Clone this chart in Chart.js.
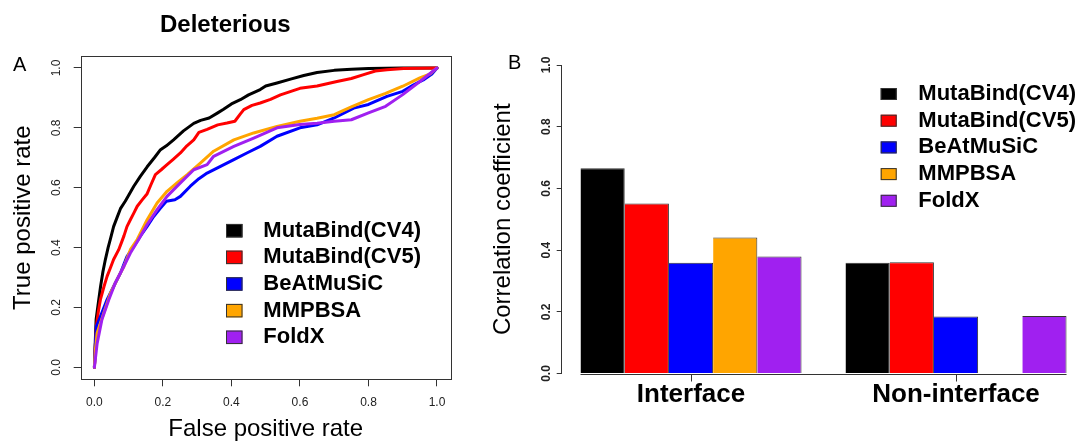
<!DOCTYPE html>
<html>
<head>
<meta charset="utf-8">
<script src="https://cdn.jsdelivr.net/npm/chart.js@4.4.1/dist/chart.umd.min.js"></script>
<style>
  body { margin: 0; background: #fff; width: 1077px; height: 444px; overflow: hidden; position: relative; font-family: "Liberation Sans", Arial, sans-serif; }
  .panel { position: absolute; top: 0; height: 444px; }
  #panelA { left: 0; width: 480px; }
  #panelB { left: 480px; width: 597px; }
  .tag { position: absolute; font-size: 20px; line-height: 20px; color: #000; }
</style>
</head>
<body>
<div class="panel" id="panelA"><canvas id="rocChart"></canvas></div>
<div class="panel" id="panelB"><canvas id="corrChart"></canvas></div>
<div class="tag" style="left:13px; top:54px;">A</div>
<div class="tag" style="left:508px; top:52px;">B</div>

<script>
const methods = ["MutaBind(CV4)", "MutaBind(CV5)", "BeAtMuSiC", "MMPBSA", "FoldX"];
const methodColors = ["#000000", "#FF0000", "#0000FF", "#FFA500", "#A020F0"];
const unitTicks = [0, 0.2, 0.4, 0.6, 0.8, 1.0];

// Panel A: ROC curves (false positive rate / true positive rate)
const cv4Fpr = [0, 0.003, 0.005, 0.012, 0.018, 0.025, 0.032, 0.04, 0.047, 0.056, 0.066, 0.076, 0.09, 0.1, 0.115, 0.134, 0.154, 0.175, 0.193, 0.21, 0.231, 0.26, 0.29, 0.31, 0.335, 0.36, 0.377, 0.4, 0.426, 0.45, 0.484, 0.5, 0.533, 0.57, 0.611, 0.65, 0.7, 0.75, 0.8, 0.9, 1];
const cv4Tpr = [0, 0.10, 0.16, 0.22, 0.27, 0.32, 0.36, 0.40, 0.43, 0.47, 0.50, 0.53, 0.555, 0.575, 0.605, 0.638, 0.67, 0.70, 0.727, 0.74, 0.76, 0.79, 0.815, 0.825, 0.833, 0.85, 0.862, 0.88, 0.894, 0.91, 0.928, 0.94, 0.95, 0.962, 0.975, 0.985, 0.992, 0.996, 0.998, 1, 1];

const cv5Fpr = [0, 0.003, 0.006, 0.012, 0.0175, 0.028, 0.037, 0.046, 0.056, 0.071, 0.08, 0.0865, 0.095, 0.105, 0.115, 0.125, 0.14, 0.154, 0.165, 0.178, 0.195, 0.212, 0.23, 0.251, 0.27, 0.29, 0.305, 0.329, 0.36, 0.387, 0.41, 0.425, 0.436, 0.46, 0.484, 0.514, 0.543, 0.6, 0.65, 0.708, 0.75, 0.786, 0.82, 0.854, 0.903, 1];
const cv5Tpr = [0, 0.08, 0.14, 0.19, 0.226, 0.27, 0.304, 0.33, 0.36, 0.393, 0.42, 0.44, 0.47, 0.493, 0.515, 0.538, 0.56, 0.58, 0.61, 0.644, 0.66, 0.677, 0.695, 0.716, 0.74, 0.76, 0.785, 0.795, 0.81, 0.816, 0.822, 0.845, 0.861, 0.875, 0.883, 0.895, 0.91, 0.932, 0.94, 0.955, 0.965, 0.978, 0.99, 0.994, 0.998, 1];

const beatFpr = [0, 0.003, 0.006, 0.0175, 0.037, 0.056, 0.076, 0.095, 0.115, 0.134, 0.154, 0.173, 0.193, 0.21, 0.235, 0.251, 0.28, 0.305, 0.329, 0.368, 0.407, 0.445, 0.484, 0.533, 0.6, 0.65, 0.7, 0.757, 0.8, 0.854, 0.9, 0.932, 0.96, 0.985, 1];
const beatTpr = [0, 0.08, 0.137, 0.17, 0.226, 0.27, 0.315, 0.37, 0.404, 0.438, 0.471, 0.504, 0.532, 0.555, 0.56, 0.571, 0.605, 0.63, 0.649, 0.671, 0.694, 0.716, 0.738, 0.772, 0.8, 0.81, 0.833, 0.866, 0.878, 0.905, 0.922, 0.944, 0.96, 0.98, 1];

const mmpbsaFpr = [0, 0.003, 0.008, 0.027, 0.047, 0.066, 0.086, 0.105, 0.125, 0.154, 0.183, 0.212, 0.241, 0.271, 0.31, 0.348, 0.407, 0.465, 0.533, 0.6, 0.65, 0.7, 0.75, 0.8, 0.85, 0.9, 0.95, 0.98, 1];
const mmpbsaTpr = [0, 0.06, 0.115, 0.18, 0.248, 0.293, 0.337, 0.393, 0.427, 0.493, 0.549, 0.588, 0.616, 0.644, 0.683, 0.722, 0.76, 0.783, 0.805, 0.822, 0.832, 0.844, 0.87, 0.894, 0.915, 0.939, 0.967, 0.98, 1];

const foldxFpr = [0, 0.008, 0.022, 0.042, 0.061, 0.086, 0.105, 0.129, 0.154, 0.183, 0.212, 0.251, 0.29, 0.329, 0.348, 0.407, 0.465, 0.533, 0.6, 0.65, 0.7, 0.75, 0.8, 0.85, 0.9, 0.95, 1];
const foldxTpr = [0, 0.08, 0.16, 0.226, 0.282, 0.337, 0.382, 0.427, 0.477, 0.527, 0.571, 0.616, 0.66, 0.677, 0.705, 0.738, 0.766, 0.8, 0.811, 0.815, 0.822, 0.827, 0.85, 0.872, 0.911, 0.955, 1];

// Panel B: correlation coefficients per group
const groups = ["Interface", "Non-interface"];
const cv4Corr = [0.665, 0.359];
const cv5Corr = [0.551, 0.361];
const beatCorr = [0.359, 0.185];
const mmpbsaCorr = [0.441, 0];
const foldxCorr = [0.379, 0.186];

const rocSeries = [[cv4Fpr, cv4Tpr], [cv5Fpr, cv5Tpr], [beatFpr, beatTpr], [mmpbsaFpr, mmpbsaTpr], [foldxFpr, foldxTpr]];
const corrSeries = [cv4Corr, cv5Corr, beatCorr, mmpbsaCorr, foldxCorr];

const FONT = "'Liberation Sans', Arial, Helvetica, sans-serif";
Chart.defaults.font.family = FONT;
Chart.defaults.color = "#000";
Chart.defaults.animation = false;

// R-style legend: filled squares + bold names, placed inside the panel
const boxLegend = {
  id: "boxLegend",
  afterDraw(chart, args, opts) {
    const ctx = chart.ctx;
    ctx.save();
    ctx.font = "bold 22px " + FONT;
    ctx.textBaseline = "middle";
    chart.data.datasets.forEach((ds, i) => {
      const y = opts.top + i * opts.rowGap;
      ctx.fillStyle = methodColors[i];
      ctx.fillRect(opts.left, y - opts.boxH / 2, opts.boxW, opts.boxH);
      ctx.strokeStyle = "#333";
      ctx.lineWidth = 1;
      ctx.strokeRect(opts.left + 0.5, y - opts.boxH / 2 + 0.5, opts.boxW - 1, opts.boxH - 1);
      ctx.fillStyle = "#000";
      ctx.fillText(ds.label, opts.left + opts.textGap, y);
    });
    ctx.restore();
  }
};

// box around the plot area (panel A)
const frame = {
  id: "frame",
  afterDatasetsDraw(chart) {
    const { ctx, chartArea: a } = chart;
    ctx.save();
    ctx.strokeStyle = "#333";
    ctx.lineWidth = 1;
    ctx.strokeRect(Math.round(a.left) + 0.5, Math.round(a.top) + 0.5, Math.round(a.width), Math.round(a.height));
    ctx.restore();
  }
};

// baseline under the bars (panel B), from first bar to last bar
const baseline = {
  id: "baseline",
  afterDatasetsDraw(chart) {
    const first = chart.getDatasetMeta(0).data[0];
    const metas = chart.getSortedVisibleDatasetMetas();
    const lastMeta = metas[metas.length - 1];
    const last = lastMeta.data[lastMeta.data.length - 1];
    const y0 = Math.round(chart.scales.y.getPixelForValue(0)) + 0.5;
    const ctx = chart.ctx;
    ctx.save();
    ctx.strokeStyle = "#333";
    ctx.lineWidth = 1;
    ctx.beginPath();
    ctx.moveTo(first.x - first.width / 2, y0);
    ctx.lineTo(last.x + last.width / 2, y0);
    ctx.stroke();
    ctx.restore();
  }
};

// Panel A
new Chart(document.getElementById("rocChart"), {
  type: "line",
  data: {
    datasets: rocSeries.map((s, i) => ({
      label: methods[i],
      data: s[0].map((x, k) => ({ x: x, y: s[1][k] })),
      borderColor: methodColors[i],
      backgroundColor: methodColors[i],
      borderWidth: 3,
      pointRadius: 0,
      fill: false,
      tension: 0,
      borderJoinStyle: "round",
      borderCapStyle: "round",
      order: methods.length - 1 - i
    }))
  },
  options: {
    responsive: true,
    maintainAspectRatio: false,
    layout: { padding: { left: 0, right: 29.3, top: 0, bottom: 0 } },
    plugins: {
      legend: { display: false },
      tooltip: { enabled: false },
      title: {
        display: true,
        text: "Deleterious",
        font: { size: 24, weight: "bold", lineHeight: 1.2 },
        padding: { top: 11, bottom: 16.2 },
        color: "#000"
      },
      boxLegend: { left: 226, top: 230.7, rowGap: 26.65, boxW: 16.5, boxH: 13.5, textGap: 37.3 }
    },
    scales: {
      x: {
        type: "linear",
        min: -0.04,
        max: 1.04,
        bounds: "data",
        afterBuildTicks: (axis) => { axis.ticks = unitTicks.map(v => ({ value: v })); },
        afterFit: (axis) => { axis.height = 64.7; },
        border: { display: false },
        grid: { drawOnChartArea: false, drawTicks: true, tickLength: 7, color: "#333" },
        ticks: { padding: 9.5, font: { size: 12 }, color: "#222", maxRotation: 0, callback: (v) => v.toFixed(1) },
        title: { display: true, text: "False positive rate", font: { size: 24, lineHeight: 1.2 }, padding: { top: 0, bottom: 0 }, color: "#000" }
      },
      y: {
        type: "linear",
        min: -0.04,
        max: 1.04,
        bounds: "data",
        afterBuildTicks: (axis) => { axis.ticks = unitTicks.map(v => ({ value: v })); },
        afterFit: (axis) => { axis.width = 80.7; },
        border: { display: false },
        grid: { drawOnChartArea: false, drawTicks: true, tickLength: 7, color: "#333" },
        ticks: { padding: 8.3, font: { size: 12 }, color: "#222", minRotation: 90, maxRotation: 90, crossAlign: "center", callback: (v) => v.toFixed(1) },
        title: { display: true, text: "True positive rate", font: { size: 24, lineHeight: 1.2 }, padding: { top: 8.6, bottom: 0 }, color: "#000" }
      }
    }
  },
  plugins: [frame, boxLegend]
});

// Panel B
new Chart(document.getElementById("corrChart"), {
  type: "bar",
  data: {
    datasets: corrSeries.map((vals, i) => ({
      label: methods[i],
      data: vals.map((v, k) => ({ x: k + 1, y: v })),
      backgroundColor: methodColors[i],
      borderColor: "#333",
      borderWidth: { top: 1, right: 1, left: 0, bottom: 0 },
      borderSkipped: "start",
      categoryPercentage: 0.834,
      barPercentage: 1
    }))
  },
  options: {
    responsive: true,
    maintainAspectRatio: false,
    layout: { padding: { left: 0, right: 0, top: 65, bottom: 0 } },
    plugins: {
      legend: { display: false },
      tooltip: { enabled: false },
      boxLegend: { left: 400.7, top: 94, rowGap: 26.7, boxW: 16, boxH: 12, textGap: 37.6 }
    },
    scales: {
      x: {
        type: "linear",
        min: 0.512,
        max: 2.4565,
        bounds: "data",
        offset: false,
        afterBuildTicks: (axis) => { axis.ticks = groups.map((g, i) => ({ value: i + 1 })); },
        afterFit: (axis) => { axis.height = 70.5; },
        border: { display: false },
        grid: { offset: false, drawOnChartArea: false, drawTicks: true, tickLength: 8, color: "#333" },
        ticks: { padding: 0, font: { size: 26, weight: "bold", lineHeight: 1 }, color: "#000", maxRotation: 0, autoSkip: false, callback: (v, i) => groups[i] }
      },
      y: {
        min: 0,
        max: 1,
        afterBuildTicks: (axis) => { axis.ticks = unitTicks.map(v => ({ value: v })); },
        afterFit: (axis) => { axis.width = 81.7; },
        border: { display: true, color: "#333" },
        grid: { drawOnChartArea: false, drawTicks: true, tickLength: 5, color: "#333" },
        ticks: { padding: 1.7, font: { size: 12, weight: "bold" }, color: "#222", minRotation: 90, maxRotation: 90, crossAlign: "center", callback: (v) => v.toFixed(1) },
        title: { display: true, text: "Correlation coefficient", font: { size: 24, lineHeight: 1.2 }, padding: { top: 8.6, bottom: 0 }, color: "#000" }
      }
    }
  },
  plugins: [baseline, boxLegend]
});
</script>
</body>
</html>
